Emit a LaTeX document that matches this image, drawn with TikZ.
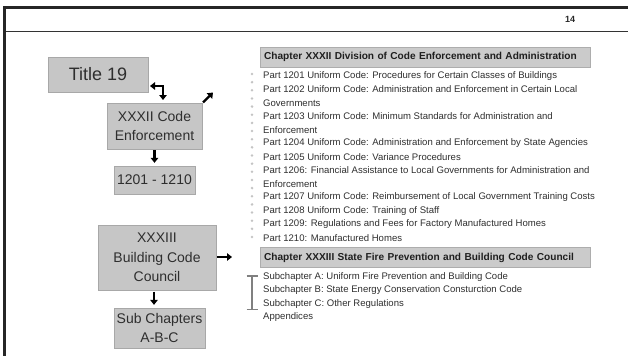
\documentclass[tikz,border=0pt]{standalone}
\usepackage{fontspec}
\setmainfont{Liberation Sans}
\usetikzlibrary{arrows.meta}
\definecolor{boxgray}{HTML}{C6C6C6}
\definecolor{hdrgray}{HTML}{CBCBCB}
\definecolor{txtgray}{HTML}{2E2E2E}
\definecolor{dotgray}{HTML}{C4C4C4}
\definecolor{brgray}{HTML}{808080}
\tikzset{
  bigbox/.style={fill=boxgray, draw=boxgray!85!black, line width=0.3pt, text=txtgray, align=center, inner sep=0pt, font=\fontsize{14}{19.3}\selectfont},
  hdr/.style={fill=hdrgray, draw=hdrgray!85!black, line width=0.3pt, anchor=west, text width=322pt, inner xsep=4pt, minimum height=20pt, inner ysep=0pt, font=\bfseries\fontsize{10.1}{12}\selectfont, text=black!88},
  item/.style={anchor=west, inner sep=0pt, text=txtgray, font=\fontsize{9.55}{11}\selectfont},
  arr/.style={line width=2.3pt, -{Triangle[length=5pt,width=7.5pt]}},
  dblarr/.style={line width=2.3pt, {Triangle[length=5pt,width=7.5pt]}-{Triangle[length=5pt,width=7.5pt]}}
}
\begin{document}
\begin{tikzpicture}[x=1pt,y=-1pt]
\useasboundingbox (0,0) rectangle (628,356);
% frame
\draw[line width=2.6pt, black!85] (3,7.5) -- (628,7.5);
\draw[line width=1pt, black!80] (3,31) -- (628,31);
\draw[line width=3pt, black!85] (4.5,6.5) -- (4.5,356);
\node[font=\bfseries\fontsize{9}{10}\selectfont, text=black!85] (pg) at (570,19) {14};
% left boxes
\node[bigbox, minimum width=100pt, minimum height=35pt, font=\fontsize{18}{20}\selectfont] (t19) at (98,74.5) {Title 19};
\node[bigbox, minimum width=95pt, minimum height=46pt] (x32) at (154.5,126) {XXXII Code\\Enforcement};
\node[bigbox, minimum width=81pt, minimum height=28pt] (r1201) at (154.5,180) {1201 - 1210};
\node[bigbox, minimum width=118pt, minimum height=65pt] (x33) at (157,257.5) {XXXIII\\Building Code\\Council};
\node[bigbox, minimum width=91pt, minimum height=40pt] (sub) at (159.5,328) {Sub Chapters\\A-B-C};
% arrows
\coordinate (t19p) at (148,86);
\coordinate (x32p) at (163,103);
\draw[dblarr, shorten <=2pt, shorten >=3pt] (t19p) -| (x32p);
\coordinate (dgA) at (203,102.5);
\coordinate (dgB) at (213,92.5);
\draw[arr] (dgA) -- (dgB);
\draw[arr, shorten <=1pt, shorten >=3pt] (x32.south) -- (r1201.north);
\coordinate (dnA) at (154,290);
\draw[arr, shorten <=1.5pt, shorten >=3pt] (dnA) -- (dnA |- sub.north);
\coordinate (rgt) at (232,257);
\draw[arr, shorten <=1pt] (x33.east |- rgt) -- (rgt);
% right column
\node[hdr] (h1) at (260,57) {Chapter XXXII Division of Code Enforcement and Administration};
\foreach \i in {0,...,20} { \fill[dotgray] (252,74+\i*8.15) circle (1.4pt); }
\node[item] (p1) at (263,76) {Part 1201 Uniform Code: Procedures for Certain Classes of Buildings};
\node[item] (p2) at (263,89.5) {Part 1202 Uniform Code: Administration and Enforcement in Certain Local};
\node[item] (p2b) at (263,103) {Governments};
\node[item] (p3) at (263,116.5) {Part 1203 Uniform Code: Minimum Standards for Administration and};
\node[item] (p3b) at (263,130) {Enforcement};
\node[item] (p4) at (263,143.5) {Part 1204 Uniform Code: Administration and Enforcement by State Agencies};
\node[item] (p5) at (263,157) {Part 1205 Uniform Code: Variance Procedures};
\node[item] (p6) at (263,170.5) {Part 1206: Financial Assistance to Local Governments for Administration and};
\node[item] (p6b) at (263,184) {Enforcement};
\node[item] (p7) at (263,197.5) {Part 1207 Uniform Code: Reimbursement of Local Government Training Costs};
\node[item] (p8) at (263,211) {Part 1208 Uniform Code: Training of Staff};
\node[item] (p9) at (263,224.5) {Part 1209: Regulations and Fees for Factory Manufactured Homes};
\node[item] (p10) at (263,238) {Part 1210: Manufactured Homes};
\node[hdr] (h2) at (260,257.5) {Chapter XXXIII State Fire Prevention and Building Code Council};
\node[item] (sa) at (263,277) {Subchapter A: Uniform Fire Prevention and Building Code};
\node[item] (sb) at (263,290.5) {Subchapter B: State Energy Conservation Consturction Code};
\node[item] (sc) at (263,304) {Subchapter C: Other Regulations};
\node[item] (ap) at (263,317.5) {Appendices};
% bracket
\draw[brgray, line width=1.3pt] (252,276) -- (252,309.5);
\draw[brgray, line width=1.3pt] (246.5,276) -- (257.5,276);
\draw[brgray, line width=1.3pt] (246.5,309.5) -- (257.5,309.5);
\end{tikzpicture}
\end{document}
